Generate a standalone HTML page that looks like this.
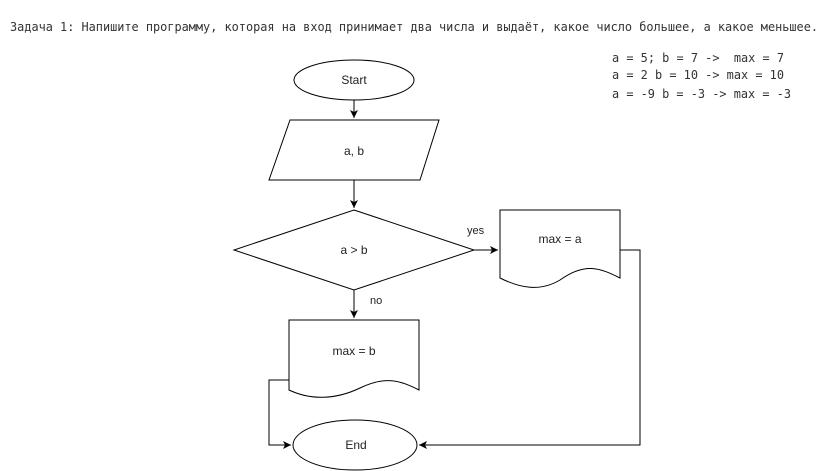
<!DOCTYPE html>
<html><head><meta charset="utf-8"><style>
html,body{margin:0;padding:0;background:#fff;width:830px;height:471px;overflow:hidden}
svg{display:block}
.m{font-family:"DejaVu Sans Mono","Liberation Mono",monospace;font-size:12px;fill:#333}
.t{font-family:"Liberation Sans",Arial,sans-serif;font-size:12px;fill:#222}
.s{font-family:"Liberation Sans",Arial,sans-serif;font-size:11px;fill:#222}
</style></head><body>
<svg width="830" height="471" viewBox="0 0 830 471">
<defs><marker id="a" markerWidth="10" markerHeight="10" refX="8" refY="4" orient="auto" markerUnits="userSpaceOnUse"><path d="M0,0 L8,4 L0,8 L2,4 Z" fill="#000"/></marker></defs>
<text class="m" x="10" y="31" textLength="808" lengthAdjust="spacingAndGlyphs">Задача 1: Напишите программу, которая на вход принимает два числа и выдаёт, какое число большее, а какое меньшее.</text>
<text class="m" x="612" y="62" xml:space="preserve" textLength="172" lengthAdjust="spacingAndGlyphs">a = 5; b = 7 ->  max = 7</text>
<text class="m" x="612" y="79" textLength="172" lengthAdjust="spacingAndGlyphs">a = 2 b = 10 -> max = 10</text>
<text class="m" x="612" y="98" textLength="179" lengthAdjust="spacingAndGlyphs">a = -9 b = -3 -> max = -3</text>
<g stroke="#000" stroke-width="1" fill="#fff">
<ellipse cx="354" cy="80" rx="60" ry="20"/>
<polygon points="290,120 439,120 420,180 269,180"/>
<polygon points="354,210 474,250 354,290 234,250"/>
<path d="M500,210 H620 V278 C600,268 585,262 560,280 C540,292 520,288 500,278 Z"/>
<path d="M289,320 H419 V390 C400,380 385,376 360,388 C335,400 310,400 289,390 Z"/>
<ellipse cx="355" cy="445" rx="62" ry="25"/>
</g>
<g stroke="#000" stroke-width="1" fill="none">
<line x1="354" y1="100" x2="354" y2="118" marker-end="url(#a)"/>
<line x1="354" y1="180" x2="354" y2="208" marker-end="url(#a)"/>
<line x1="474" y1="250" x2="498" y2="250" marker-end="url(#a)"/>
<line x1="354" y1="290" x2="354" y2="318" marker-end="url(#a)"/>
<polyline points="289,380 269,380 269,445 291,445" marker-end="url(#a)"/>
<polyline points="620,250 640,250 640,445 419,445" marker-end="url(#a)"/>
</g>
<text class="t" x="354" y="84" text-anchor="middle">Start</text>
<text class="t" x="354" y="155" text-anchor="middle">a, b</text>
<text class="t" x="354" y="254" text-anchor="middle">a &gt; b</text>
<text class="t" x="560" y="243" text-anchor="middle">max = a</text>
<text class="t" x="354" y="355" text-anchor="middle">max = b</text>
<text class="t" x="356" y="449" text-anchor="middle">End</text>
<text class="s" x="467" y="234">yes</text>
<text class="s" x="370" y="304">no</text>
</svg>
</body></html>
